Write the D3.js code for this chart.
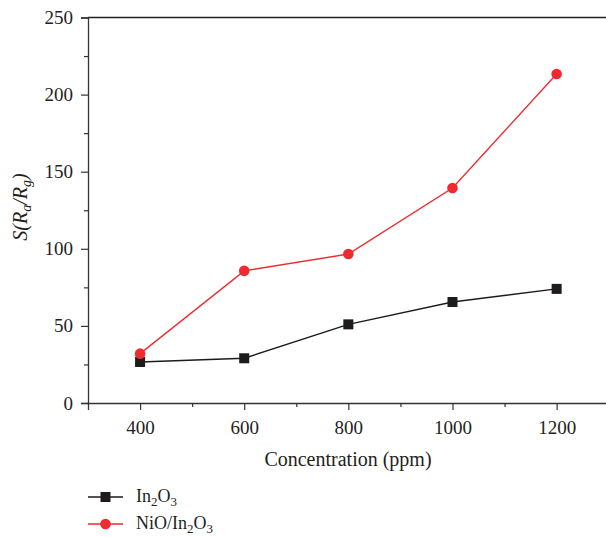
<!DOCTYPE html>
<html>
<head>
<meta charset="utf-8">
<script src="https://cdn.jsdelivr.net/npm/d3@7"></script>
<style>
  body { margin: 0; background: #fff; }
  text { font-family: "Liberation Serif", "DejaVu Serif", serif; fill: #231f20; }
</style>
</head>
<body>
<script>
// chart data
var concentration = [400, 600, 800, 1000, 1200];
var in2o3 = [26.6, 29, 51, 65.5, 74];
var nioIn2o3 = [32, 85.7, 96.6, 139.4, 213.4];
var xTicks = [400, 600, 800, 1000, 1200];
var yTicks = [0, 50, 100, 150, 200, 250];

var width = 606, height = 537;

var svg = d3.select("body").append("svg")
    .attr("width", width)
    .attr("height", height);

var x = d3.scaleLinear().domain([300, 1300]).range([88, 608.7]);
var y = d3.scaleLinear().domain([0, 250]).range([403, 17.5]);

var axisColor = "#333";

// top frame line
svg.append("line")
    .attr("x1", 88).attr("x2", width)
    .attr("y1", y(250)).attr("y2", y(250))
    .attr("stroke", "#222").attr("stroke-width", 1.3);

// y axis
svg.append("g")
    .attr("transform", "translate(88,0)")
    .call(d3.axisLeft(y).tickValues(yTicks).tickSize(7).tickPadding(8).tickFormat(d3.format("d")));
svg.append("g")
    .attr("transform", "translate(88,0)")
    .call(d3.axisLeft(y).tickValues([25, 75, 125, 175, 225]).tickSize(4).tickFormat(""))
    .select(".domain").remove();

// x axis
svg.append("g")
    .attr("transform", "translate(0,403)")
    .call(d3.axisBottom(x).tickValues(xTicks).tickSize(7).tickPadding(11).tickFormat(d3.format("d")));
svg.append("g")
    .attr("transform", "translate(0,403)")
    .call(d3.axisBottom(x).tickValues([500, 700, 900, 1100]).tickSize(4).tickFormat(""))
    .select(".domain").remove();

svg.selectAll(".domain").attr("stroke", axisColor).attr("stroke-width", 1.3);
svg.selectAll(".tick line").attr("stroke", axisColor).attr("stroke-width", 1.2);
svg.selectAll(".tick text")
    .style("font-family", "'Liberation Serif', serif")
    .style("font-size", "19px")
    .attr("fill", "#231f20");

// axis titles
svg.append("text")
    .attr("x", 348).attr("y", 466)
    .attr("text-anchor", "middle")
    .style("font-size", "20px")
    .text("Concentration (ppm)");

var yl = svg.append("text")
    .attr("transform", "translate(27,207) rotate(-90)")
    .attr("text-anchor", "middle")
    .style("font-size", "20px")
    .style("font-style", "italic");
yl.append("tspan").text("S(R");
yl.append("tspan").attr("dy", 4).style("font-size", "14px").text("a");
yl.append("tspan").attr("dy", -4).text("/R");
yl.append("tspan").attr("dy", 4).style("font-size", "14px").text("g");
yl.append("tspan").attr("dy", -4).text(")");

// lines
var series = [
  { name: "In2O3", values: in2o3, color: "#1f1a1b", shape: "square" },
  { name: "NiO/In2O3", values: nioIn2o3, color: "#ee2b2e", shape: "circle" }
];

var line = d3.line()
    .x(function(d, i){ return x(concentration[i]); })
    .y(function(d){ return y(d); });

series.forEach(function(s){
  svg.append("path")
      .datum(s.values)
      .attr("fill", "none")
      .attr("stroke", s.color)
      .attr("stroke-width", 1.4)
      .attr("d", line);
});

series.forEach(function(s){
  if (s.shape === "square") {
    svg.selectAll(".sq")
        .data(s.values).enter()
        .append("rect")
        .attr("x", function(d, i){ return x(concentration[i]) - 5; })
        .attr("y", function(d){ return y(d) - 5; })
        .attr("width", 10).attr("height", 10)
        .attr("fill", s.color);
  } else {
    svg.selectAll(".ci")
        .data(s.values).enter()
        .append("circle")
        .attr("cx", function(d, i){ return x(concentration[i]); })
        .attr("cy", function(d){ return y(d); })
        .attr("r", 5.3)
        .attr("fill", s.color);
  }
});

// legend
var legend = svg.append("g");
series.forEach(function(s, i){
  var ly = 497 + i * 27;
  legend.append("line")
      .attr("x1", 88).attr("x2", 123)
      .attr("y1", ly).attr("y2", ly)
      .attr("stroke", s.color).attr("stroke-width", 1.4);
  if (s.shape === "square") {
    legend.append("rect").attr("x", 100.5).attr("y", ly - 5)
        .attr("width", 10).attr("height", 10).attr("fill", s.color);
  } else {
    legend.append("circle").attr("cx", 105.5).attr("cy", ly)
        .attr("r", 5.3).attr("fill", s.color);
  }
  var t = legend.append("text")
      .attr("x", 136).attr("y", ly + 5)
      .style("font-size", "18px");
  var prefix = s.name === "In2O3" ? "In" : "NiO/In";
  t.append("tspan").text(prefix);
  t.append("tspan").attr("dy", 4).style("font-size", "13px").text("2");
  t.append("tspan").attr("dy", -4).text("O");
  t.append("tspan").attr("dy", 4).style("font-size", "13px").text("3");
});
</script>
</body>
</html>
